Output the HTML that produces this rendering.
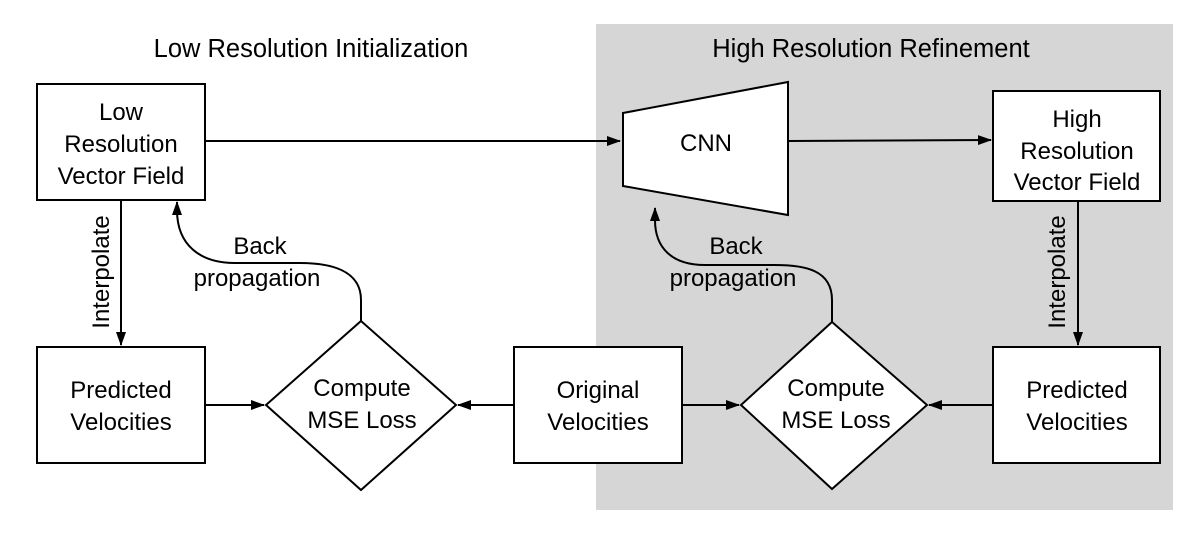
<!DOCTYPE html>
<html><head><style>
html,body{margin:0;padding:0;background:#fff;}
svg text{font-family:"Liberation Sans",Arial,sans-serif;font-size:24px;fill:#000;}
svg text.t{font-size:25.5px;}
</style></head><body>
<svg width="1192" height="534" viewBox="0 0 1192 534" xmlns="http://www.w3.org/2000/svg">
<defs><marker id="a" markerWidth="14" markerHeight="10" refX="13" refY="5" orient="auto" markerUnits="userSpaceOnUse"><path d="M0,0 L14,5 L0,10 z" fill="#000"/></marker></defs>
<rect x="596" y="24" width="577" height="486" fill="#d6d6d6"/>
<text class="t" x="311" y="57" text-anchor="middle">Low Resolution Initialization</text>
<text class="t" x="871" y="57" text-anchor="middle">High Resolution Refinement</text>
<g fill="#fff" stroke="#000" stroke-width="2">
<rect x="37" y="84" width="168" height="116"/>
<rect x="993" y="91" width="167" height="110"/>
<rect x="37" y="347" width="168" height="116"/>
<rect x="514" y="347" width="168" height="116"/>
<rect x="993" y="347" width="167" height="116"/>
<polygon points="623,113 788,82 788,215 623,186"/>
<polygon points="361,321 456,405 361,490 266,405"/>
<polygon points="832,322 927,405 832,489 741,405"/>
</g>
<g stroke="#000" stroke-width="2" fill="none" marker-end="url(#a)">
<line x1="205" y1="141" x2="620" y2="141"/>
<line x1="788" y1="141" x2="991" y2="140"/>
<line x1="121" y1="200" x2="121" y2="345"/>
<line x1="1078" y1="201" x2="1078" y2="345"/>
<line x1="205" y1="405" x2="264" y2="405"/>
<line x1="514" y1="405" x2="458" y2="405"/>
<line x1="682" y1="405" x2="739" y2="405"/>
<line x1="993" y1="405" x2="929" y2="405"/>
<path d="M361,321 L361,300 C361,270 330,263 300,263 L235,263 C200,263 177,245 177,210 L177,202"/>
<path d="M832,322 L832,300 C832,270 805,265 775,265 L705,265 C672,265 655,248 655,220 L655,208"/>
</g>
<g text-anchor="middle">
<text x="121" y="120">Low</text><text x="121" y="152">Resolution</text><text x="121" y="184">Vector Field</text>
<text x="706" y="151">CNN</text>
<text x="1077" y="127">High</text><text x="1077" y="159">Resolution</text><text x="1077" y="190">Vector Field</text>
<text x="121" y="398">Predicted</text><text x="121" y="430">Velocities</text>
<text x="598" y="398">Original</text><text x="598" y="430">Velocities</text>
<text x="1077" y="398">Predicted</text><text x="1077" y="430">Velocities</text>
<text x="362" y="396">Compute</text><text x="362" y="428">MSE Loss</text>
<text x="836" y="396">Compute</text><text x="836" y="428">MSE Loss</text>
<text x="260" y="254">Back</text><text x="257" y="286">propagation</text>
<text x="736" y="254">Back</text><text x="733" y="286">propagation</text>
<text transform="translate(109,272) rotate(-90)">Interpolate</text>
<text transform="translate(1065,272) rotate(-90)">Interpolate</text>
</g>
</svg>
</body></html>
